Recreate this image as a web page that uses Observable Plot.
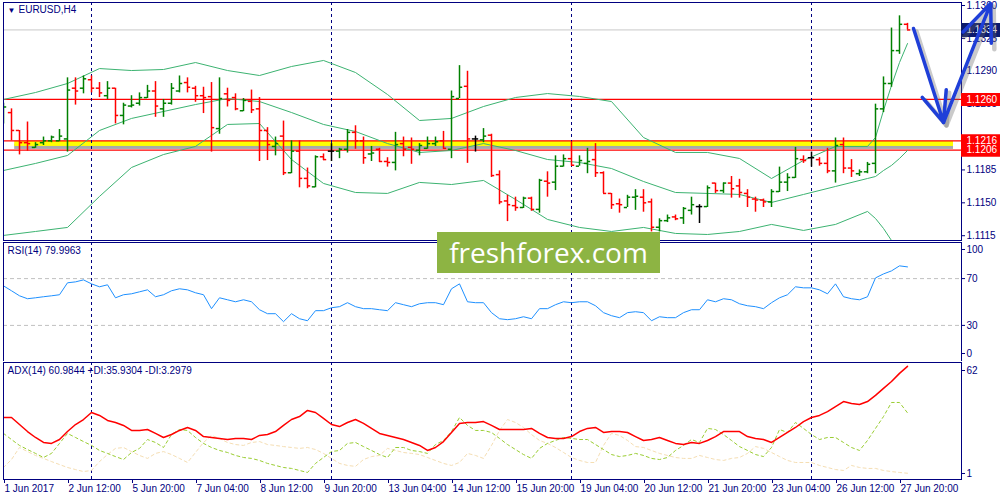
<!DOCTYPE html>
<html><head><meta charset="utf-8">
<script src="https://cdn.jsdelivr.net/npm/d3@7"></script>
<script src="https://cdn.jsdelivr.net/npm/@observablehq/plot@0.6"></script>
<style>
body{margin:0;background:#fff;}
#chart{position:relative;width:1000px;height:500px;overflow:hidden;background:#fff;}
#chart svg{position:absolute;left:0;}
#wm{position:absolute;left:437px;top:232px;width:223px;height:41px;background:#8db443;color:#fff;font-family:'Open Sans',sans-serif;font-size:28px;line-height:40px;text-align:center;}
</style></head><body><div id="chart"></div><script>
// ---------- data ----------
const symbolLabel = "EURUSD,H4";
const rsiLabel = "RSI(14) 79.9963";
const adxLabel = "ADX(14) 60.9844 +DI:35.9304 -DI:3.2979";
const watermark = "freshforex.com";

const open = [1.1237,1.1246,1.1227,1.1214,1.1209,1.1214,1.1216,1.1216,1.1218,1.1272,
1.1272,1.1281,1.1272,1.1264,1.1272,1.1243,1.1253,1.1256,1.1262,1.1269,
1.1250,1.1256,1.1269,1.1278,1.1272,1.1264,1.1263,1.1229,1.1266,1.1262,
1.1248,1.1258,1.1250,1.1227,1.1210,1.1221,1.1182,1.1205,1.1176,1.1167,
1.1199,1.1205,1.1205,1.1207,1.1225,1.1216,1.1202,1.1207,1.1194,1.1193,
1.1213,1.1209,1.1206,1.1208,1.1213,1.1216,1.1207,1.1261,1.1274,1.1218,
1.1217,1.1222,1.1180,1.1152,1.1147,1.1145,1.1155,1.1143,1.1173,1.1172,
1.1189,1.1197,1.1189,1.1192,1.1196,1.1182,1.1160,1.1149,1.1145,1.1156,
1.1156,1.1151,1.1124,1.1131,1.1135,1.1134,1.1142,1.1146,1.1146,1.1171,
1.1163,1.1171,1.1168,1.1160,1.1154,1.1153,1.1151,1.1162,1.1172,1.1177,
1.1196,1.1198,1.1196,1.1192,1.1184,1.1212,1.1187,1.1181,1.1183,1.1192,
1.1250,1.1277,1.1312,1.1340];
const high = [1.1256,1.1250,1.1227,1.1236,1.1214,1.1220,1.1221,1.1228,1.1283,1.1283,
1.1285,1.1285,1.1278,1.1279,1.1272,1.1256,1.1264,1.1267,1.1275,1.1279,
1.1260,1.1277,1.1285,1.1283,1.1274,1.1273,1.1278,1.1283,1.1272,1.1266,
1.1261,1.1270,1.1262,1.1230,1.1220,1.1237,1.1216,1.1216,1.1187,1.1200,
1.1202,1.1213,1.1208,1.1228,1.1232,1.1220,1.1210,1.1208,1.1198,1.1225,
1.1220,1.1219,1.1213,1.1220,1.1220,1.1226,1.1269,1.1296,1.1290,1.1221,
1.1229,1.1223,1.1184,1.1158,1.1156,1.1156,1.1156,1.1175,1.1183,1.1200,
1.1201,1.1215,1.1200,1.1208,1.1213,1.1183,1.1160,1.1154,1.1158,1.1164,
1.1164,1.1154,1.1133,1.1137,1.1137,1.1145,1.1156,1.1148,1.1168,1.1171,
1.1171,1.1178,1.1175,1.1164,1.1156,1.1154,1.1164,1.1188,1.1181,1.1209,
1.1200,1.1204,1.1198,1.1208,1.1219,1.1219,1.1196,1.1185,1.1193,1.1255,
1.1284,1.1336,1.1349,1.1341];
const low = [1.1234,1.1216,1.1201,1.1205,1.1208,1.1211,1.1214,1.1215,1.1204,1.1254,
1.1266,1.1267,1.1262,1.1260,1.1234,1.1233,1.1251,1.1253,1.1261,1.1241,
1.1241,1.1254,1.1267,1.1267,1.1257,1.1245,1.1204,1.1223,1.1252,1.1248,
1.1247,1.1245,1.1194,1.1195,1.1200,1.1179,1.1181,1.1166,1.1165,1.1166,
1.1195,1.1194,1.1197,1.1203,1.1207,1.1191,1.1194,1.1193,1.1188,1.1184,
1.1199,1.1191,1.1200,1.1207,1.1210,1.1207,1.1197,1.1261,1.1192,1.1204,
1.1214,1.1177,1.1148,1.1130,1.1141,1.1144,1.1141,1.1139,1.1156,1.1163,
1.1188,1.1189,1.1189,1.1181,1.1177,1.1160,1.1143,1.1139,1.1145,1.1142,
1.1140,1.1119,1.1119,1.1129,1.1131,1.1127,1.1137,1.1128,1.1145,1.1160,
1.1160,1.1155,1.1155,1.1145,1.1140,1.1145,1.1145,1.1161,1.1162,1.1176,
1.1192,1.1188,1.1189,1.1181,1.1171,1.1181,1.1177,1.1178,1.1181,1.1181,
1.1246,1.1273,1.1308,1.1334];
const close = [1.1252,1.1227,1.1214,1.1213,1.1212,1.1216,1.1220,1.1221,1.1270,1.1269,
1.1282,1.1272,1.1267,1.1272,1.1243,1.1254,1.1254,1.1262,1.1269,1.1253,
1.1256,1.1272,1.1277,1.1273,1.1264,1.1262,1.1230,1.1261,1.1259,1.1250,
1.1259,1.1249,1.1227,1.1212,1.1213,1.1182,1.1205,1.1176,1.1168,1.1199,
1.1196,1.1205,1.1207,1.1225,1.1216,1.1198,1.1203,1.1194,1.1193,1.1212,
1.1207,1.1207,1.1211,1.1213,1.1215,1.1208,1.1263,1.1273,1.1218,1.1218,
1.1221,1.1179,1.1151,1.1148,1.1145,1.1155,1.1143,1.1174,1.1171,1.1189,
1.1197,1.1190,1.1195,1.1194,1.1182,1.1160,1.1148,1.1148,1.1156,1.1157,
1.1150,1.1124,1.1131,1.1134,1.1133,1.1144,1.1148,1.1146,1.1166,1.1163,
1.1171,1.1165,1.1161,1.1156,1.1153,1.1151,1.1162,1.1172,1.1177,1.1197,
1.1195,1.1198,1.1192,1.1184,1.1211,1.1187,1.1184,1.1183,1.1191,1.1250,
1.1277,1.1312,1.1340,1.1334];

// Bollinger bands read at bar indices
const bbIdx = [0,4,8,12,16,20,24,28,32,36,40,44,48,52,56,60,64,68,72,76,80,84,88,92,96,100,104,108,109,110,111,112,113];
const bbUpper = [1.12600,1.12674,1.12770,1.12929,1.12908,1.12919,1.12993,1.12908,1.12855,1.12951,1.13015,1.12887,1.12653,1.12376,1.12398,1.12525,1.12621,1.12663,1.12632,1.12578,1.12195,1.12036,1.12036,1.11972,1.11759,1.11951,1.12100,1.12100,1.12195,1.12483,1.12749,1.12993,1.13195];
const bbMiddle = [1.11844,1.11919,1.12004,1.12270,1.12398,1.12472,1.12546,1.12610,1.12578,1.12461,1.12334,1.12259,1.12131,1.12036,1.12057,1.12131,1.12057,1.11961,1.11929,1.11865,1.11727,1.11610,1.11600,1.11589,1.11504,1.11589,1.11674,1.11759,1.11780,1.11844,1.11898,1.11972,1.12057];
const bbLower = [1.11153,1.11195,1.11238,1.11568,1.11876,1.12014,1.12100,1.12334,1.12344,1.11961,1.11706,1.11610,1.11600,1.11717,1.11695,1.11738,1.11536,1.11323,1.11238,1.11195,1.11238,1.11174,1.11163,1.11195,1.11270,1.11206,1.11270,1.11408,1.11333,1.11227,1.11099,1.10993,1.10908];

const rsi = [63.8,59.6,55.3,52.8,53.6,54.5,55.3,56.2,66.4,67.2,
68.9,65.5,63.0,64.7,53.6,56.2,57.0,58.7,60.4,54.5,
56.2,59.6,61.3,60.4,57.9,56.2,44.3,53.6,51.9,50.2,
51.9,50.2,43.4,40.0,40.0,33.2,40.0,35.7,34.0,42.6,
42.6,45.1,46.0,49.4,46.0,44.3,44.3,43.4,42.6,49.4,
47.7,46.0,48.5,49.4,49.4,47.7,61.3,65.5,50.2,49.4,
49.4,40.9,35.7,34.9,35.7,37.4,35.7,44.3,44.3,47.7,
50.2,49.4,50.2,50.2,46.8,40.9,38.3,36.6,40.9,41.7,
40.9,34.0,37.4,36.6,36.6,40.9,43.4,43.4,51.9,50.2,
52.8,51.9,48.5,46.8,46.0,44.3,49.4,53.6,56.2,63.0,
62.1,62.1,60.4,57.0,65.5,54.5,52.8,51.9,54.5,70.6,
74.0,76.6,80.9,80.0];
const adx = [33.4,33.4,29.6,25.8,22.6,19.9,19.4,21.5,25.8,29.6,
32.3,36.1,34.5,31.8,30.7,29.1,26.4,26.4,26.9,24.8,
22.6,24.2,26.4,28.0,26.4,23.1,22.6,22.1,21.5,22.1,
22.1,21.5,23.7,24.2,25.8,29.1,32.3,33.9,37.2,36.1,
32.9,29.6,28.5,30.7,32.3,30.2,27.5,24.8,23.7,22.6,
21.5,19.9,18.3,15.6,17.2,20.4,25.3,30.2,30.7,30.7,
31.2,29.1,26.9,26.9,26.9,26.9,27.5,24.8,22.6,22.1,
22.1,23.1,25.8,27.5,28.0,25.3,25.8,25.8,25.3,23.1,
21.0,21.5,22.6,21.0,19.4,18.8,19.9,19.4,21.0,23.1,
25.8,25.8,25.8,23.1,22.1,21.5,19.9,22.6,25.3,28.0,
31.2,33.4,34.5,36.6,39.3,42.0,41.0,40.4,42.0,45.3,
49.1,52.8,57.2,61.0];
const plusDI = [24.8,21.5,18.3,16.1,14.0,11.8,14.0,19.4,24.8,22.6,
20.4,18.3,15.6,14.0,12.3,10.7,14.5,16.7,21.5,19.9,
17.2,24.2,26.9,26.4,22.6,19.4,17.2,15.6,14.5,12.9,
11.8,11.3,10.2,8.6,7.5,6.4,5.9,4.8,3.7,8.6,
11.8,15.0,15.6,19.4,19.9,17.7,15.6,13.4,11.8,17.2,
17.2,15.6,15.0,14.0,18.8,21.0,25.8,33.4,29.1,26.4,
26.4,25.3,22.1,18.8,16.1,13.4,11.3,16.7,19.4,21.0,
22.6,22.1,21.5,21.5,18.8,16.1,13.4,12.3,12.9,14.0,
12.9,11.3,10.7,11.8,15.6,18.3,21.5,19.9,27.5,26.9,
24.2,21.0,17.7,15.6,13.4,12.3,17.2,26.9,25.3,30.7,
27.5,24.2,21.5,22.6,22.6,19.9,17.2,15.6,21.0,27.5,
33.9,41.5,41.5,35.9];
const minusDI = [6.4,10.7,17.2,15.0,12.9,11.3,9.6,8.0,6.4,5.3,
4.2,4.8,9.6,13.4,16.7,17.2,15.0,12.9,11.3,14.0,
15.0,13.4,11.3,9.1,14.5,19.9,23.7,22.1,19.9,18.8,
18.3,19.9,20.4,18.8,18.3,17.7,17.2,16.7,17.2,16.1,
14.0,11.3,8.6,7.5,7.0,10.7,12.3,12.9,16.7,15.6,
14.5,14.0,13.4,11.8,10.2,8.6,7.5,9.1,14.0,12.9,
11.3,18.3,26.4,32.3,30.7,28.0,24.2,21.0,19.4,17.2,
14.5,11.8,10.2,9.1,9.1,18.3,24.8,23.7,21.0,17.7,
17.2,15.6,14.0,12.9,11.8,11.3,11.3,12.9,11.8,10.7,
10.2,11.3,11.8,14.0,17.7,16.7,14.5,12.3,10.2,9.1,
9.1,9.1,7.5,6.4,5.3,4.8,7.5,6.4,5.9,5.9,
4.8,4.2,3.7,3.3];

const weekStarts = [11, 41, 71, 101];
const dateTicks = [0,8,16,24,32,40,48,56,64,72,80,88,96,104,112];
const dateLabels = ["1 Jun 2017","2 Jun 12:00","5 Jun 20:00","7 Jun 04:00","8 Jun 12:00","9 Jun 20:00","13 Jun 04:00","14 Jun 12:00","15 Jun 20:00","19 Jun 04:00","20 Jun 12:00","21 Jun 20:00","23 Jun 04:00","26 Jun 12:00","27 Jun 20:00"];
const priceTicks = [1.1115,1.1150,1.1185,1.1255,1.1290,1.1325,1.1360];
const levelPrices = [1.1260, 1.1216, 1.1206];
const lastPrice = 1.1334;
const supportZone = [{from: 1.4, to: 118.75, low: 1.12100, high: 1.12155}];
const trendArrows = [
  {x1: 113.75, y1: 1.13355, x2: 117.5, y2: 1.12355},
  {x1: 117.5, y1: 1.12355, x2: 123.4, y2: 1.13621}
];
const rsiLevels = [70, 30];
const rsiMax = 100, rsiMin = 0;
const adxMax = 62, adxMin = 1;

// ---------- drawing ----------
const navy = "#000080";
const XMAX = 119.75;
const font = "'Liberation Sans', Arial, sans-serif";
const baseStyle = {background: "none", fontFamily: font, fontSize: "10px", color: navy};
const bars = open.map((o, i) => ({i, o, h: high[i], l: low[i], c: close[i]}));
const barStroke = d => d.c > d.o ? "#008000" : d.c < d.o ? "#ff0000" : "#000000";
const bbLine = (vals) => Plot.line(bbIdx, {x: d => d, y: (d, k) => vals[k], stroke: "#3cb371", strokeWidth: 1, clip: true});
const idxLine = (vals, opts) => Plot.line(vals, {x: (d, i) => i, y: d => d, clip: true, ...opts});
const weekRules = () => Plot.ruleX(weekStarts, {stroke: navy, strokeDasharray: "3,3"});

const main = Plot.plot({
  width: 1000, height: 241, marginTop: 2, marginBottom: 1, marginLeft: 3, marginRight: 39,
  x: {domain: [0, XMAX], axis: null},
  y: {domain: [1.11099, 1.13632]},
  color: {type: "identity"},
  style: baseStyle,
  marks: [
    Plot.ruleY([lastPrice], {stroke: "#c8c8c8"}),
    Plot.rect(supportZone, {x1: "from", x2: "to", y1: "low", y2: "high", fill: "#9a9a9a", fillOpacity: 0.85, dy: 3}),
    Plot.rect(supportZone, {x1: "from", x2: "to", y1: "low", y2: "high", fill: "#ffff00"}),
    Plot.ruleY(levelPrices, {stroke: "#ff0000", strokeWidth: 1.2}),
    weekRules(),
    bbLine(bbUpper), bbLine(bbMiddle), bbLine(bbLower),
    Plot.ruleX(bars, {x: "i", y1: "l", y2: "h", stroke: barStroke, strokeWidth: 1.5, clip: true}),
    Plot.ruleY(bars, {y: "o", x1: d => d.i - 0.4, x2: "i", stroke: barStroke, strokeWidth: 1.5, clip: true}),
    Plot.ruleY(bars, {y: "c", x1: "i", x2: d => d.i + 0.4, stroke: barStroke, strokeWidth: 1.5, clip: true}),
    Plot.frame({stroke: navy}),
    Plot.axisY(priceTicks, {anchor: "right", tickSize: 3, tickPadding: 2, tickFormat: d => d.toFixed(4)}),
    Plot.ruleY(levelPrices, {x1: () => XMAX, x2: () => XMAX + 6, stroke: "#ff0000", strokeWidth: 13}),
    Plot.text(levelPrices, {x: () => XMAX, y: d => d, text: d => d.toFixed(4), textAnchor: "start", dx: 5, fill: "white"}),
    Plot.ruleY([lastPrice], {x1: () => XMAX, x2: () => XMAX + 6, stroke: "#0b1a6e", strokeWidth: 14}),
    Plot.text([lastPrice], {x: () => XMAX, y: d => d, text: d => d.toFixed(4), textAnchor: "start", dx: 5, fill: "white"}),
    Plot.text(["\u25BC"], {frameAnchor: "top-left", text: d => d, dx: 4, dy: 5, fontSize: 8, fill: navy}),
    Plot.text([symbolLabel], {frameAnchor: "top-left", text: d => d, dx: 15, dy: 3, fill: navy}),
    Plot.arrow(trendArrows, {x1: "x1", y1: "y1", x2: "x2", y2: "y2", stroke: "#666", strokeOpacity: 0.35, strokeWidth: 4.5, headLength: 17, headAngle: 45, dx: 3, dy: 3}),
    Plot.arrow(trendArrows, {x1: "x1", y1: "y1", x2: "x2", y2: "y2", stroke: "#1f3fd8", strokeWidth: 3.5, headLength: 17, headAngle: 45})
  ]
});
main.style.top = "0px";

const rsiChart = Plot.plot({
  width: 1000, height: 121, marginTop: 2, marginBottom: 0, marginLeft: 3, marginRight: 39,
  x: {domain: [0, XMAX], axis: null},
  y: {domain: [-0.85, 100.85]},
  style: baseStyle,
  marks: [
    Plot.ruleY(rsiLevels, {stroke: "#c0c0c0", strokeDasharray: "4,3"}),
    weekRules(),
    idxLine(rsi, {stroke: "#1e90ff", strokeWidth: 1}),
    Plot.frame({stroke: navy}),
    Plot.axisY(rsiLevels, {anchor: "right", tickSize: 3, tickPadding: 2}),
    Plot.axisY([rsiMax], {anchor: "right", tickSize: 3, tickPadding: 2, dy: 6}),
    Plot.axisY([rsiMin], {anchor: "right", tickSize: 3, tickPadding: 2, dy: -7}),
    Plot.text([rsiLabel], {frameAnchor: "top-left", text: d => d, dx: 4, dy: 4, fill: navy})
  ]
});
rsiChart.style.top = "240px";

const adxChart = Plot.plot({
  width: 1000, height: 140, marginTop: 2, marginBottom: 21, marginLeft: 3, marginRight: 39,
  x: {domain: [0, XMAX]},
  y: {domain: [-0.08, 63.08]},
  style: baseStyle,
  marks: [
    weekRules(),
    idxLine(minusDI, {stroke: "#f5deb3", strokeDasharray: "3,3", strokeWidth: 1}),
    idxLine(plusDI, {stroke: "#9acd32", strokeDasharray: "3,3", strokeWidth: 1}),
    idxLine(adx, {stroke: "#ff0000", strokeWidth: 1.5}),
    Plot.frame({stroke: navy}),
    Plot.axisX(dateTicks, {anchor: "bottom", tickSize: 4, tickPadding: 1, textAnchor: "start", dx: 1, tickFormat: d => dateLabels[dateTicks.indexOf(d)]}),
    Plot.axisY([adxMax], {anchor: "right", tickSize: 3, tickPadding: 2, dy: 6}),
    Plot.axisY([adxMin], {anchor: "right", tickSize: 3, tickPadding: 2, dy: -4}),
    Plot.text([adxLabel], {frameAnchor: "top-left", text: d => d, dx: 4, dy: 4, fill: navy})
  ]
});
adxChart.style.top = "360px";

const chart = document.getElementById("chart");
chart.append(main, rsiChart, adxChart);
const wm = document.createElement("div");
wm.id = "wm";
wm.textContent = watermark;
chart.append(wm);
</script></body></html>
